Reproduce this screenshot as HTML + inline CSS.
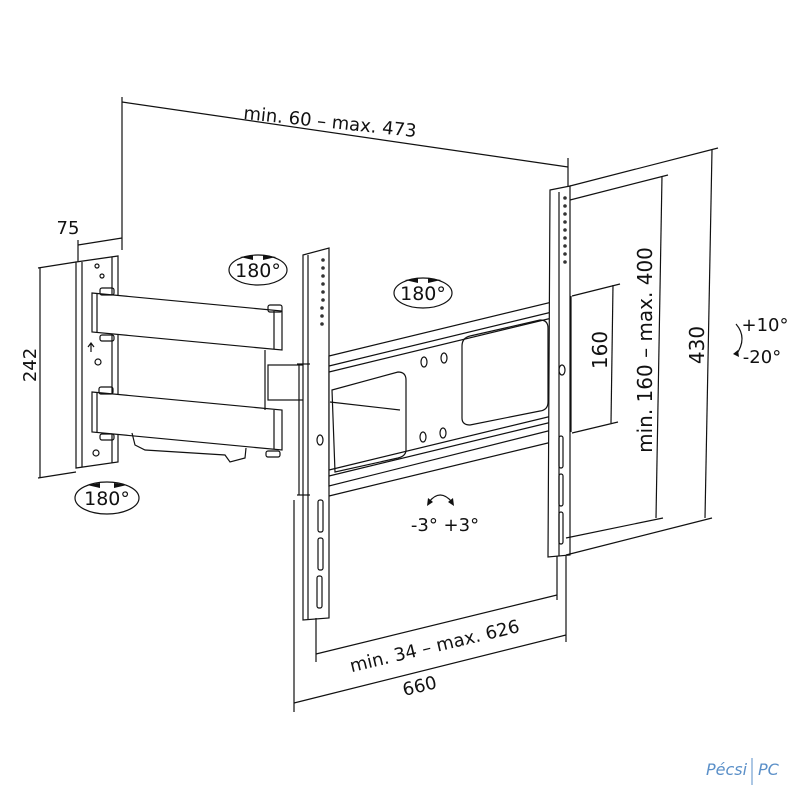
<!DOCTYPE html>
<html><head><meta charset="utf-8"><style>html,body{margin:0;padding:0;background:#fff}svg{display:block}text{font-family:"DejaVu Sans","Liberation Sans",sans-serif;fill:#111}</style></head><body>
<svg width="800" height="800" viewBox="0 0 800 800" xmlns="http://www.w3.org/2000/svg">
<g stroke="#111" stroke-width="1.2" fill="none">
<!-- top dimension -->
<line x1="122" y1="97" x2="122" y2="250"/>
<line x1="122" y1="102" x2="568" y2="167"/>
<line x1="568" y1="158" x2="568" y2="195"/>
<!-- 75 -->
<line x1="78" y1="245" x2="122" y2="238"/>
<line x1="78" y1="240" x2="78" y2="262"/>
<!-- 242 -->
<line x1="38" y1="268" x2="76" y2="262"/>
<line x1="38" y1="478" x2="76" y2="472"/>
<line x1="40" y1="268" x2="40" y2="478"/>
<!-- wall plate -->
<path d="M76 262 L118 256 L118 462 L76 468 Z"/>
<line x1="82" y1="262" x2="82" y2="467"/>
<line x1="112" y1="257" x2="112" y2="463"/>
<circle cx="97" cy="266" r="2"/><circle cx="102" cy="276" r="2"/><circle cx="98" cy="362" r="3"/><circle cx="96" cy="453" r="3"/>
<path d="M91 352 L91 344 M88 347 L91 343 L94 347"/>
<!-- arms -->
<path d="M92 293 L282 311 L282 350 L92 332 Z" fill="#fff"/>
<line x1="97" y1="294" x2="97" y2="333"/>
<line x1="274" y1="311" x2="274" y2="349"/>
<path d="M92 392 L282 410 L282 450 L92 432 Z" fill="#fff"/>
<line x1="97" y1="393" x2="97" y2="433"/>
<line x1="274" y1="410" x2="274" y2="449"/>
<path d="M132 433 L135 445 L145 450 L225 455 L230 462 L245 458 L246 448"/>
<rect x="100" y="288" width="14" height="7" rx="2"/><rect x="100" y="335" width="14" height="6" rx="2"/>
<rect x="99" y="387" width="14" height="7" rx="2"/><rect x="100" y="434" width="14" height="6" rx="2"/>
<rect x="268" y="305" width="14" height="7" rx="2"/><rect x="266" y="451" width="14" height="6" rx="2"/>
<line x1="265" y1="350" x2="265" y2="410"/>
<!-- center block -->
<rect x="268" y="365" width="36" height="35" fill="#fff"/>
<!-- left TV bracket -->
<path d="M303 255 L329 248 L329 618 L303 620 Z" fill="#fff"/>
<line x1="308" y1="255" x2="308" y2="619"/>
<line x1="299" y1="364" x2="299" y2="495"/>
<line x1="297" y1="364" x2="310" y2="364"/><line x1="297" y1="495" x2="310" y2="495"/>
<g fill="#333" stroke="none">
<circle cx="323" cy="260" r="1.8"/><circle cx="323" cy="268" r="1.8"/><circle cx="323" cy="276" r="1.8"/><circle cx="323" cy="284" r="1.8"/><circle cx="323" cy="292" r="1.8"/><circle cx="323" cy="300" r="1.8"/><circle cx="322" cy="308" r="1.8"/><circle cx="322" cy="316" r="1.8"/><circle cx="322" cy="324" r="1.8"/>
</g>
<ellipse cx="320" cy="440" rx="3" ry="5"/>
<rect x="318" y="500" width="5" height="32" rx="2"/><rect x="318" y="538" width="5" height="32" rx="2"/><rect x="317" y="576" width="5" height="32" rx="2"/>
<!-- cross plate -->
<path d="M329 356 L552 302 L552 430 L329 486 Z" fill="#fff"/>
<line x1="329" y1="366" x2="552" y2="312"/>
<line x1="329" y1="372" x2="552" y2="318"/>
<line x1="329" y1="470" x2="552" y2="416"/>
<line x1="329" y1="476" x2="552" y2="422"/>
<line x1="329" y1="496" x2="552" y2="442"/>
<path d="M332 390 L398 372 Q406 372 406 380 L406 450 Q406 456 398 458 L335 472 Z"/>
<path d="M330 402 L400 410"/>
<path d="M470 336 L540 320 Q548 320 548 328 L548 402 Q548 410 540 411 L470 425 Q462 425 462 418 L462 346 Q462 338 470 336 Z"/>
<ellipse cx="424" cy="362" rx="3" ry="5"/><ellipse cx="444" cy="358" rx="3" ry="5"/>
<ellipse cx="423" cy="437" rx="3" ry="5"/><ellipse cx="443" cy="433" rx="3" ry="5"/>
<!-- right bracket -->
<path d="M550 190 L570 186 L570 555 L548 557 Z" fill="#fff"/>
<line x1="559" y1="192" x2="559" y2="556"/>
<line x1="571" y1="296" x2="571" y2="432"/>
<g fill="#333" stroke="none">
<circle cx="565" cy="198" r="1.8"/><circle cx="565" cy="206" r="1.8"/><circle cx="565" cy="214" r="1.8"/><circle cx="565" cy="222" r="1.8"/><circle cx="565" cy="230" r="1.8"/><circle cx="565" cy="238" r="1.8"/><circle cx="565" cy="246" r="1.8"/><circle cx="565" cy="254" r="1.8"/><circle cx="565" cy="262" r="1.8"/>
</g>
<ellipse cx="562" cy="370" rx="3" ry="5"/>
<rect x="559" y="436" width="4" height="32" rx="2"/><rect x="559" y="474" width="4" height="32" rx="2"/><rect x="559" y="512" width="4" height="32" rx="2"/>
<!-- right dims -->
<line x1="570" y1="186" x2="718" y2="148"/>
<line x1="566" y1="555" x2="712" y2="518"/>
<line x1="712" y1="150" x2="705" y2="518"/>
<line x1="570" y1="200" x2="668" y2="175"/>
<line x1="566" y1="538" x2="663" y2="518"/>
<line x1="662" y1="176" x2="656" y2="518"/>
<line x1="572" y1="296" x2="620" y2="284"/>
<line x1="572" y1="433" x2="618" y2="422"/>
<line x1="613" y1="285" x2="611" y2="423"/>
<path d="M736 324 Q748 338 736 355"/>
<!-- bottom dims -->
<line x1="316" y1="618" x2="316" y2="662"/>
<line x1="557" y1="556" x2="557" y2="600"/>
<line x1="316" y1="654" x2="557" y2="595"/>
<line x1="294" y1="500" x2="294" y2="712"/>
<line x1="566" y1="556" x2="566" y2="642"/>
<line x1="294" y1="703" x2="566" y2="635"/>
<!-- tilt arc -->
<path d="M429 502 Q440 488 452 502"/>
<!-- 180 ellipses -->
<ellipse cx="258" cy="270" rx="29" ry="15"/>
<ellipse cx="423" cy="293" rx="29" ry="15"/>
<ellipse cx="107" cy="498" rx="32" ry="16"/>
</g>
<g fill="#111">
<path d="M240 257 L253 255 L253 260 Z"/><path d="M276 257 L263 255 L263 260 Z"/>
<path d="M405 280 L418 278 L418 283 Z"/><path d="M441 280 L428 278 L428 283 Z"/>
<path d="M87 485 L100 483 L100 488 Z"/><path d="M127 485 L114 483 L114 488 Z"/>
<path d="M427 506 L428 498 L433 502 Z"/><path d="M454 506 L453 498 L448 502 Z"/>
<path d="M733 354 L738 350 L739 357 Z"/>
</g>
<g font-size="18">
<text x="330" y="128" text-anchor="middle" transform="rotate(6 330 122)">min. 60 – max. 473</text>
<text x="68" y="234" text-anchor="middle">75</text>
<text transform="translate(36 365) rotate(-90)" text-anchor="middle">242</text>
<text x="258" y="277" text-anchor="middle" font-size="19">180°</text>
<text x="423" y="300" text-anchor="middle" font-size="19">180°</text>
<text x="107" y="505" text-anchor="middle" font-size="19">180°</text>
<text x="445" y="531" text-anchor="middle">-3°  +3°</text>
<text transform="translate(607 350) rotate(-90)" text-anchor="middle" font-size="20">160</text>
<text transform="translate(652 350) rotate(-90)" text-anchor="middle" font-size="20">min. 160 – max. 400</text>
<text transform="translate(704 345) rotate(-90)" text-anchor="middle" font-size="20">430</text>
<text x="765" y="331" text-anchor="middle">+10°</text>
<text x="762" y="363" text-anchor="middle">-20°</text>
<text transform="translate(436 652) rotate(-13.5)" text-anchor="middle">min. 34 – max. 626</text>
<text transform="translate(421 692) rotate(-13.5)" text-anchor="middle">660</text>
</g>
<text x="706" y="775" font-size="16" style="fill:#5a8fc8" font-style="italic">Pécsi</text>
<text x="758" y="775" font-size="16" style="fill:#5a8fc8" font-style="italic">PC</text>
<line x1="752" y1="758" x2="752" y2="785" stroke="#5a8fc8"/>
</svg>
</body></html>
